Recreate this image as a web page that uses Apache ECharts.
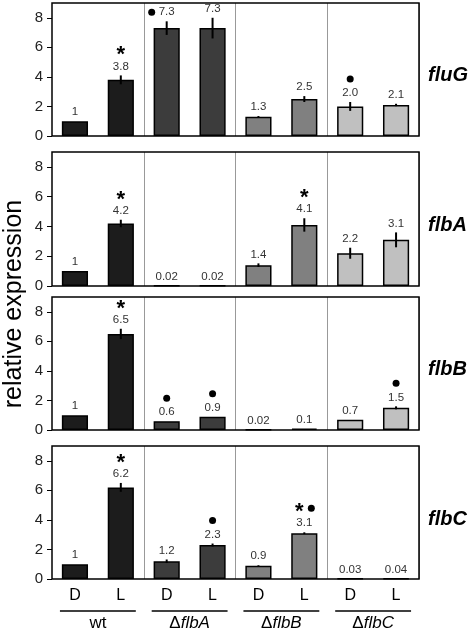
<!DOCTYPE html>
<html>
<head>
<meta charset="utf-8">
<script src="https://cdn.jsdelivr.net/npm/echarts@6/dist/echarts.min.js"></script>
<style>html,body{margin:0;padding:0;background:#fff}#c{width:473px;height:632px}</style>
</head>
<body>
<div id="c"></div>
<script>
// ---------- data ----------
const categories = ['D', 'L', 'D', 'L', 'D', 'L', 'D', 'L'];
const groups = ['wt', 'ΔflbA', 'ΔflbB', 'ΔflbC'];
const genes = ['fluG', 'flbA', 'flbB', 'flbC'];
const yTicks = [0, 2, 4, 6, 8];

const fluGValues = [1, 3.8, 7.3, 7.3, 1.3, 2.5, 2.0, 2.1];
const fluGErrors = [0, 0.3, 0.46, 0.7, 0.05, 0.2, 0.3, 0.08];
const fluGLabels = ['1', '3.8', '7.3', '7.3', '1.3', '2.5', '2.0', '2.1'];
const fluGMarks = ['', 'star', 'dotLeft', '', '', '', 'dot', ''];

const flbAValues = [1, 4.2, 0.02, 0.02, 1.4, 4.1, 2.2, 3.1];
const flbAErrors = [0, 0.25, 0, 0, 0.12, 0.45, 0.37, 0.5];
const flbALabels = ['1', '4.2', '0.02', '0.02', '1.4', '4.1', '2.2', '3.1'];
const flbAMarks = ['', 'star', '', '', '', 'star', '', ''];

const flbBValues = [1, 6.5, 0.6, 0.9, 0.02, 0.1, 0.7, 1.5];
const flbBErrors = [0, 0.35, 0, 0, 0, 0, 0, 0.1];
const flbBLabels = ['1', '6.5', '0.6', '0.9', '0.02', '0.1', '0.7', '1.5'];
const flbBMarks = ['', 'star', 'dot', 'dot', '', '', '', 'dot'];

const flbCValues = [1, 6.2, 1.2, 2.3, 0.9, 3.1, 0.03, 0.04];
const flbCErrors = [0, 0.3, 0.12, 0.1, 0.03, 0.06, 0, 0];
const flbCLabels = ['1', '6.2', '1.2', '2.3', '0.9', '3.1', '0.03', '0.04'];
const flbCMarks = ['', 'star', '', 'dot', '', 'starDot', '', ''];

// ---------- styling ----------
const groupColors = ['#1c1c1c', '#3c3c3c', '#808080', '#c0c0c0'];
const FONT = '"Liberation Sans", Arial, sans-serif';
const panels = [
  { values: fluGValues, errors: fluGErrors, labels: fluGLabels, marks: fluGMarks, top: 3, height: 133 },
  { values: flbAValues, errors: flbAErrors, labels: flbALabels, marks: flbAMarks, top: 152, height: 134 },
  { values: flbBValues, errors: flbBErrors, labels: flbBLabels, marks: flbBMarks, top: 297, height: 133 },
  { values: flbCValues, errors: flbCErrors, labels: flbCLabels, marks: flbCMarks, top: 446, height: 134 }
];
const GL = 52, GW = 367;

const chart = echarts.init(document.getElementById('c'), null, { renderer: 'canvas' });

const grid = [], xAxis = [], yAxis = [], series = [], graphic = [];

panels.forEach((p, k) => {
  grid.push({ left: GL, width: GW, top: p.top, height: p.height, show: true, borderColor: '#000', borderWidth: 1.5, backgroundColor: 'transparent', z: 5 });
  xAxis.push({
    gridIndex: k, type: 'category', data: categories, boundaryGap: true,
    axisLine: { show: false }, axisTick: { show: false },
    axisLabel: { show: k === 3, interval: 0, fontSize: 16, color: '#000', fontFamily: FONT, margin: 9 },
    splitLine: { show: true, interval: (i) => i === 2 || i === 4 || i === 6, lineStyle: { color: '#999', width: 1 } }
  });
  yAxis.push({
    gridIndex: k, type: 'value', min: 0, max: 9, interval: 2,
    axisLine: { show: false },
    axisTick: { show: true, inside: false, length: 5, customValues: yTicks, lineStyle: { color: '#000', width: 1 } },
    axisLabel: { customValues: yTicks, fontSize: 15, color: '#222', fontFamily: FONT, margin: 9 },
    splitLine: { show: false }
  });
  series.push({
    type: 'bar', xAxisIndex: k, yAxisIndex: k, barWidth: '57%', z: 2,
    data: p.values.map((v, i) => ({ value: v, itemStyle: { color: groupColors[Math.floor(i / 2)] } })),
    itemStyle: { borderColor: '#000', borderWidth: 1.5 }
  });
  series.push({
    type: 'custom', xAxisIndex: k, yAxisIndex: k, z: 10, clip: false,
    data: p.values.map((v, i) => [i, v, p.errors[i]]),
    renderItem: (params, api) => {
      const i = params.dataIndex;
      const v = api.value(1), e = api.value(2);
      const top = api.coord([api.value(0), v + e]);
      const bot = api.coord([api.value(0), Math.max(0, v - e)]);
      const ch = [];
      if (e > 0) ch.push({ type: 'line', shape: { x1: top[0], y1: top[1], x2: bot[0], y2: bot[1] }, style: { stroke: '#000', lineWidth: 2 } });
      const ly = top[1] - 9;
      ch.push({ type: 'text', style: { text: p.labels[i], x: top[0], y: ly, align: 'center', verticalAlign: 'middle', fill: '#333', font: '11.5px ' + FONT } });
      const m = p.marks[i];
      if (m === 'star') ch.push({ type: 'text', style: { text: '*', x: top[0], y: ly - 11, align: 'center', verticalAlign: 'middle', font: 'bold 22px ' + FONT, fill: '#000' } });
      if (m === 'dot') ch.push({ type: 'circle', shape: { cx: top[0], cy: ly - 14, r: 3.5 }, style: { fill: '#000' } });
      if (m === 'dotLeft') ch.push({ type: 'circle', shape: { cx: top[0] - 15, cy: ly, r: 3.5 }, style: { fill: '#000' } });
      if (m === 'starDot') {
        ch.push({ type: 'text', style: { text: '*', x: top[0] - 5, y: ly - 11, align: 'center', verticalAlign: 'middle', font: 'bold 22px ' + FONT, fill: '#000' } });
        ch.push({ type: 'circle', shape: { cx: top[0] + 7, cy: ly - 15, r: 3.5 }, style: { fill: '#000' } });
      }
      return { type: 'group', children: ch };
    }
  });
  graphic.push({ type: 'text', left: 428, top: p.top + p.height / 2 - 4, style: { text: genes[k], font: 'italic bold 20px ' + FONT, fill: '#000' } });
});

// group label axis under the bottom panel
xAxis.push({
  gridIndex: 3, type: 'category', data: groups, position: 'bottom', offset: 28, boundaryGap: true,
  axisLine: { show: false }, axisTick: { show: false }, splitLine: { show: false },
  axisLabel: {
    interval: 0, margin: 8, fontSize: 17, color: '#000', fontFamily: FONT,
    formatter: (s) => s.startsWith('Δ') ? '{d|Δ}{i|' + s.slice(1) + '}' : '{d|' + s + '}',
    rich: { d: { fontSize: 17, fontFamily: FONT, color: '#000' }, i: { fontSize: 17, fontStyle: 'italic', fontFamily: FONT, color: '#000' } }
  }
});

graphic.push({ type: 'text', x: 14, y: 304, rotation: Math.PI / 2, style: { text: 'relative expression', font: '25px ' + FONT, fill: '#000', align: 'center', verticalAlign: 'middle' } });

chart.setOption({ animation: false, grid, xAxis, yAxis, series, graphic });

// underlines below the D/L labels for each strain
const lines = [];
for (let g = 0; g < groups.length; g++) {
  const xa = chart.convertToPixel({ xAxisIndex: 3 }, g * 2);
  const xb = chart.convertToPixel({ xAxisIndex: 3 }, g * 2 + 1);
  lines.push({ type: 'line', shape: { x1: xa - 15, y1: 611, x2: xb + 15, y2: 611 }, style: { stroke: '#000', lineWidth: 1.5 } });
}
chart.setOption({ graphic: graphic.concat(lines) });
</script>
</body>
</html>
